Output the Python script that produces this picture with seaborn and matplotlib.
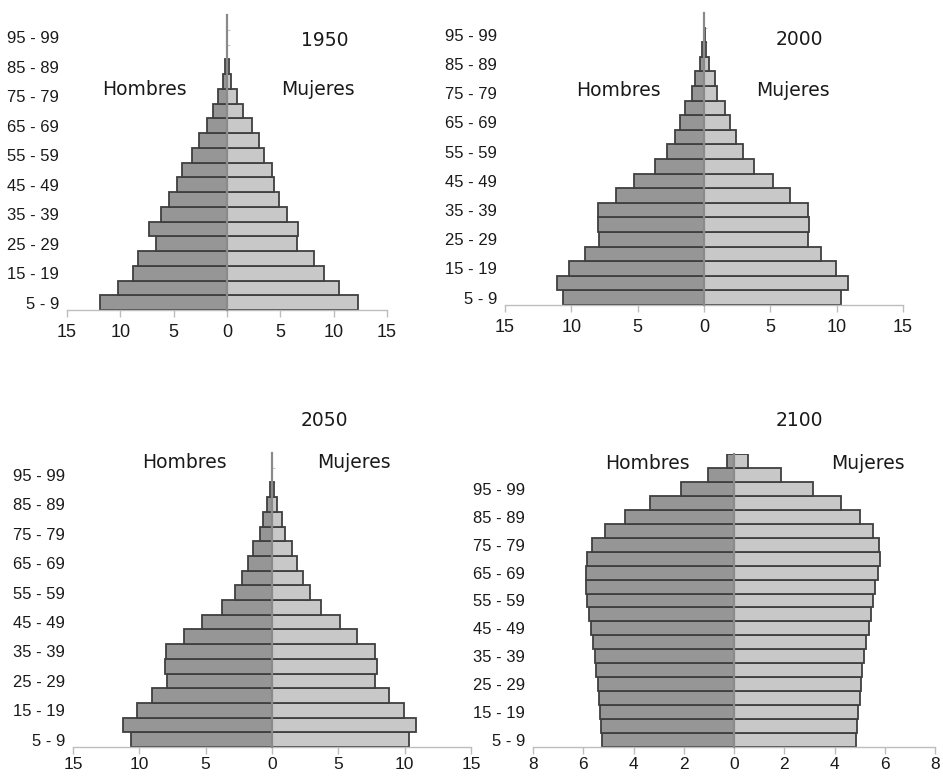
import numpy as np
import matplotlib
matplotlib.use('Agg')
import matplotlib.pyplot as plt
import seaborn as sns

age_groups = ['5 - 9', '10 - 14', '15 - 19', '20 - 24', '25 - 29', '30 - 34', '35 - 39',
              '40 - 44', '45 - 49', '50 - 54', '55 - 59', '60 - 64', '65 - 69', '70 - 74',
              '75 - 79', '80 - 84', '85 - 89', '90 - 94', '95 - 99', '100 - 104', '105+']

men_1950 = [11.9, 10.2, 8.8, 8.3, 6.7, 7.3, 6.2, 5.4, 4.7, 4.2, 3.3, 2.6, 1.9, 1.3,
            0.8, 0.35, 0.17, 0.04, 0.01, 0.0]
women_1950 = [12.3, 10.5, 9.1, 8.2, 6.6, 6.7, 5.6, 4.9, 4.4, 4.2, 3.5, 3.0, 2.3, 1.5,
              0.9, 0.4, 0.17, 0.04, 0.01, 0.0]

men_2000 = [10.6, 11.1, 10.2, 9.0, 7.9, 8.0, 8.0, 6.6, 5.3, 3.7, 2.8, 2.2, 1.8, 1.4,
            0.9, 0.7, 0.33, 0.17, 0.03, 0.01]
women_2000 = [10.35, 10.85, 9.95, 8.85, 7.85, 7.9, 7.85, 6.45, 5.2, 3.75, 2.95, 2.4, 1.95,
              1.55, 1.0, 0.8, 0.38, 0.18, 0.04, 0.01]

men_2050 = [10.65, 11.2, 10.2, 9.05, 7.95, 8.1, 8.0, 6.6, 5.3, 3.75, 2.8, 2.25, 1.8, 1.45,
            0.9, 0.7, 0.35, 0.13, 0.03, 0.01]
women_2050 = [10.35, 10.85, 9.95, 8.8, 7.8, 7.9, 7.8, 6.4, 5.15, 3.7, 2.85, 2.3, 1.85, 1.5,
              0.95, 0.75, 0.35, 0.13, 0.03, 0.01]

men_2100 = [5.25, 5.28, 5.32, 5.37, 5.42, 5.48, 5.54, 5.62, 5.70, 5.77, 5.84, 5.88, 5.90,
            5.86, 5.65, 5.15, 4.35, 3.33, 2.12, 1.02, 0.27]
women_2100 = [4.85, 4.91, 4.95, 5.0, 5.04, 5.11, 5.17, 5.25, 5.36, 5.45, 5.53, 5.62, 5.72,
              5.81, 5.77, 5.52, 5.0, 4.24, 3.13, 1.86, 0.54]

years = ['1950', '2000', '2050', '2100']
x_limits = [15, 15, 15, 8]
x_steps = [5, 5, 5, 2]

sns.set_style('white')
plt.rcParams['font.family'] = ['Liberation Sans', 'DejaVu Sans']

MEN_COLOR = '#969696'
WOMEN_COLOR = '#c8c8c8'
EDGE = '#3f3f3f'
TXT = '#1a1a1a'

fig = plt.figure(figsize=(9.43, 7.76), dpi=100)

# axes boxes in figure fraction (left, bottom, width, height)
boxes = [
    (67 / 943, 1 - 310 / 776, 320 / 943, 295 / 776),
    (505 / 943, 1 - 305 / 776, 398 / 943, 292 / 776),
    (73 / 943, 1 - 747 / 776, 398 / 943, 294 / 776),
    (533 / 943, 1 - 747 / 776, 402 / 943, 293 / 776),
]
# text positions in axes fraction: year, Hombres, Mujeres
text_pos = [
    ((0.806, 0.915), (0.241, 0.746), (0.784, 0.746)),
    ((0.739, 0.908), (0.286, 0.736), (0.724, 0.736)),
    ((0.631, 1.112), (0.281, 0.966), (0.706, 0.966)),
    ((0.662, 1.116), (0.284, 0.969), (0.833, 0.969)),
]

series = [(men_1950, women_1950), (men_2000, women_2000),
          (men_2050, women_2050), (men_2100, women_2100)]

for i, (men, women) in enumerate(series):
    ax = fig.add_axes(boxes[i])
    n = len(men)
    cats = age_groups[:n]
    sns.barplot(x=-np.array(men), y=cats, orient='h', color=MEN_COLOR, saturation=1,
                edgecolor=EDGE, linewidth=1.3, width=1, ax=ax)
    sns.barplot(x=np.array(women), y=cats, orient='h', color=WOMEN_COLOR, saturation=1,
                edgecolor=EDGE, linewidth=1.3, width=1, ax=ax)

    lim = x_limits[i]
    ticks = np.arange(-lim, lim + 1, x_steps[i])
    ax.set_xlim(-lim, lim)
    ax.set_xticks(ticks, [str(abs(t)) for t in ticks])
    ax.set_ylim(-0.5, n - 0.5)
    ax.set_yticks(range(0, 19, 2), [age_groups[k] for k in range(0, 19, 2)])
    ax.set_yticks(np.arange(0.5, n - 0.5, 1), minor=True)
    ax.set_xlabel('')
    ax.set_ylabel('')

    for s in ['top', 'left']:
        ax.spines[s].set_visible(False)
    ax.spines['bottom'].set_color('#bdbdbd')
    ax.spines['bottom'].set_linewidth(1.0)
    # vertical axis line at zero
    ax.spines['right'].set_position(('data', 0))
    ax.spines['right'].set_color('#8a8a8a')
    ax.spines['right'].set_linewidth(1.6)
    ax.spines['right'].set_zorder(5)

    bottom_row = i >= 2
    ax.tick_params(axis='x', which='major', direction='out', length=5, width=1,
                   color='#bdbdbd', pad=2.5 if bottom_row else 5,
                   labelsize=12.5 if bottom_row else 13, labelcolor=TXT, bottom=True)
    ax.tick_params(axis='y', which='major', left=False, right=False, pad=2,
                   labelsize=12, labelcolor=TXT)
    ax.tick_params(axis='y', which='minor', left=False, right=True, direction='out',
                   length=2.5, width=0.8, color='#c8c8c8', labelright=False)

    yr, hom, muj = text_pos[i]
    for pos, label in [(yr, years[i]), (hom, 'Hombres'), (muj, 'Mujeres')]:
        ax.text(*pos, label, transform=ax.transAxes, ha='center', va='center',
                fontsize=13.5, color=TXT, family=['DejaVu Sans'])

fig.savefig('out.png', dpi=100)
